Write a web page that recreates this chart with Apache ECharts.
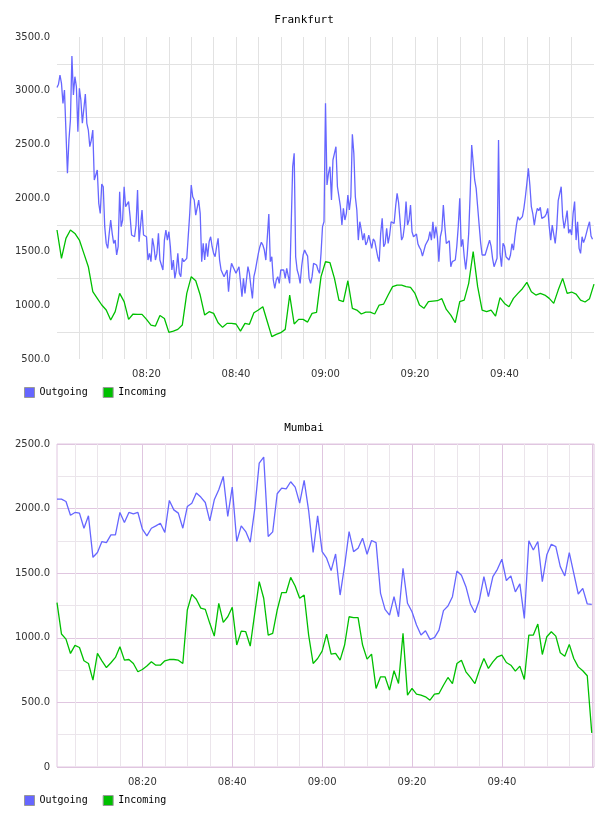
<!DOCTYPE html>
<html>
<head>
<meta charset="utf-8">
<script src="https://cdn.jsdelivr.net/npm/echarts@6/dist/echarts.min.js"></script>
<style>
html, body { margin: 0; padding: 0; background: #fff; }
#chart { width: 608px; height: 816px; }
</style>
</head>
<body>
<div id="chart"></div>
<script>
// minutes after 08:00
var fraOutStart = 0, fraOutStep = 1 / 3;
var fraInStart = 0, fraInStep = 1;
var mumStart = 1, mumStep = 1;

var fraOut = [3030, 3060, 3146, 3068, 2882, 3006, 2991, 2230, 2540, 2727, 3323, 2960, 3130, 3037,
	2618, 3022, 2913, 2696, 2680, 2969, 2696, 2633, 2478, 2540, 2633, 2168, 2152, 2261, 1950, 1857,
	2130, 2105, 1733, 1577, 1531, 1671, 1795, 1671, 1577, 1608, 1469, 1546, 2059, 1733, 1795, 2105,
	1919, 1934, 1966, 1826, 1655, 1639, 1639, 1750, 2074, 1593, 1608, 1888, 1655, 1639, 1639, 1422,
	1484, 1407, 1624, 1546, 1422, 1484, 1671, 1422, 1407, 1329, 1608, 1702, 1608, 1686, 1546, 1329,
	1422, 1251, 1329, 1484, 1298, 1267, 1438, 1407, 1397, 1438, 1453, 1857, 2121, 2012, 1981,
	1841, 1826, 1981, 1857, 1407, 1577, 1422, 1577, 1453, 1593, 1639, 1546, 1484, 1453, 1546, 1624,
	1422, 1329, 1344, 1267, 1251, 1329, 1127, 1298, 1391, 1376, 1329, 1298, 1298, 1360, 1360, 1080,
	1251, 1111, 1236, 1360, 1298, 1174, 1065, 1267, 1329, 1407, 1484, 1546, 1587, 1562, 1515, 1422,
	1428, 1851, 1407, 1453, 1236, 1158, 1236, 1267, 1205, 1329, 1344, 1329, 1251, 1344, 1329, 1205,
	1205, 2292, 2416, 1453, 1329, 1282, 1205, 1360, 1469, 1515, 1484, 1459, 1251, 1205, 1267, 1391,
	1407, 1376, 1329, 1298, 1484, 1733, 1779, 2882, 2121, 2230, 2292,
	1981, 2354, 2416, 2478, 2105, 2105, 1919, 1748, 1904, 1795, 1857, 2028, 1888, 2012, 2593, 2416,
	2012, 1888, 1608, 1779, 1702, 1608, 1671, 1562, 1593, 1655, 1639, 1531, 1618, 1599, 1593, 1453,
	1407, 1671, 1810, 1546, 1577, 1717, 1577, 1655, 1779, 1795, 1764, 1919, 2043, 1956, 1956, 1608,
	1639, 1748, 1966, 1748, 1795, 1934, 1686, 1639, 1639, 1664, 1571, 1540, 1515, 1459, 1509, 1562,
	1546, 1615, 1686, 1608, 1779, 1624, 1733, 1639, 1407, 1639, 1702, 1934, 1733, 1577, 1571, 1602,
	1360, 1407, 1422, 1422, 1546, 1733, 1997, 1546, 1615, 1453,
	1335, 1469, 1671, 2043, 2494, 2503, 2168, 2090, 1919, 1748, 1584, 1469, 1469, 1469, 1469, 1562,
	1608, 1552, 1438, 1360, 1351, 1438, 2540, 1484, 1360, 1577, 1552, 1453, 1438, 1422, 1469, 1574,
	1515, 1639, 1748, 1826, 1795, 1795, 1826, 1904, 2012, 2136, 2276, 2121, 1919, 1851, 1748, 1841,
	1904, 1882, 1913, 1810, 1795, 1826, 1851, 1904, 1733, 1608, 1748, 1757, 1577, 1717, 1975, 1981,
	2105, 1826, 1717, 1795, 1882, 1671, 1708, 1655, 1857, 1966, 1608, 1779, 1531, 1484, 1639, 1584,
	1624, 1677, 1733, 1779, 1646, 1615];

var fraIn = [1702, 1437, 1624, 1702, 1670, 1608, 1484, 1360, 1127, 1065, 1003, 956, 863, 941, 1111,
	1034, 869, 919, 916, 916, 869, 816, 807, 906, 878, 748, 760, 776, 816, 1111, 1267, 1229, 1096,
	909, 941, 925, 838, 795, 832, 832, 826, 760, 832, 823, 931, 956, 987, 847, 708, 729, 745, 776,
	1096, 826, 869, 869, 844, 925, 934, 1267, 1406, 1397, 1251, 1049, 1034, 1229, 972, 956, 919,
	937, 937, 919, 1003, 1012, 1096, 1174, 1189, 1189, 1174, 1167, 1111, 1003, 972, 1034, 1040,
	1043, 1062, 962, 909, 838, 1034, 1049, 1205, 1500, 1174, 956, 941, 956, 900, 1071, 1018, 987,
	1065, 1111, 1155, 1214, 1127, 1096, 1111, 1096, 1065, 1018, 1142, 1251, 1111, 1124, 1105, 1049,
	1031, 1062, 1198];

var mumOut = [2073, 2073, 2055, 1949, 1970, 1965, 1848, 1944, 1623, 1660, 1745, 1737, 1797, 1797,
	1970, 1892, 1970, 1959, 1970, 1841, 1789, 1848, 1866, 1887, 1815, 2063, 1990, 1965, 1848, 2016,
	2042, 2120, 2089, 2047, 1905, 2068, 2146, 2249, 1939, 2166, 1745, 1866, 1822, 1740, 1996, 2352,
	2399, 1784, 1820, 2115, 2159, 2153, 2208, 2166, 2042, 2218, 1985, 1660, 1944, 1667, 1616, 1520,
	1649, 1331, 1556, 1822, 1667, 1693, 1771, 1647, 1753, 1737, 1344, 1220, 1176, 1318, 1163, 1538,
	1267, 1202, 1099, 1021, 1055, 988, 1001, 1060, 1210, 1246, 1318, 1517, 1484, 1396, 1262, 1194,
	1293, 1474, 1318, 1474, 1530, 1608, 1443, 1479, 1355, 1417, 1150, 1750, 1680, 1745, 1435, 1642,
	1724, 1706, 1551, 1479, 1660, 1499, 1339, 1383, 1262, 1259];

var mumIn = [1272, 1029, 990, 879, 941, 925, 822, 801, 672, 879, 822, 770, 807, 848, 931, 827, 832,
	801, 737, 755, 781, 814, 788, 788, 822, 832, 832, 827, 801, 1215, 1336, 1298, 1230, 1220, 1112,
	1013, 1267, 1119, 1163, 1236, 944, 1052, 1047, 936, 1189, 1435, 1306, 1021, 1034, 1215, 1349,
	1349, 1468, 1401, 1306, 1331, 1021, 801, 840, 897, 1029, 874, 879, 827, 944, 1163, 1156, 1156,
	944, 835, 874, 608, 698, 698, 595, 745, 646, 1034, 556, 608, 564, 556, 543, 517, 564, 569, 633,
	693, 646, 801, 827, 737, 693, 646, 750, 840, 763, 814, 853, 866, 809, 788, 742, 781, 677, 1021,
	1021, 1106, 871, 1008, 1047, 1013, 884, 858, 949, 840, 775, 745, 706, 264];

var seriesNames = ['Outgoing', 'Incoming'];
var colors = ['#6666ff', '#00c000'];

function pairs(vals, start, step) {
	return vals.map(function (v, i) { return [start + i * step, v]; });
}

function timeLabel(v) {
	if (v <= 1 || v >= 120 || Math.round(v) % 20 != 0) return '';
	var h = 8 + Math.floor(v / 60), m = Math.round(v % 60);
	return (h < 10 ? '0' : '') + h + ':' + (m < 10 ? '0' : '') + m;
}

var tickFont = { fontFamily: 'DejaVu Sans', fontSize: 10, color: '#333' };
var purple = '#e0c6e0';
var lilac = '#ebe5eb';

var chart = echarts.init(document.getElementById('chart'));
var option = {
	animation: false,
	color: colors,
	title: [
		{ text: 'Frankfurt', left: 'center', top: 15, padding: 0,
			textStyle: { fontFamily: 'DejaVu Sans Mono', fontSize: 11, fontWeight: 'normal', color: '#000' } },
		{ text: 'Mumbai', left: 'center', top: 423, padding: 0,
			textStyle: { fontFamily: 'DejaVu Sans Mono', fontSize: 11, fontWeight: 'normal', color: '#000' } }
	],
	legend: [
		{ data: seriesNames, left: 24, top: 387, padding: 0, itemGap: 15, icon: 'rect',
			itemWidth: 10, itemHeight: 10, itemStyle: { borderColor: '#999', borderWidth: 1 },
			textStyle: { fontFamily: 'DejaVu Sans Mono', fontSize: 10, color: '#000' } },
		{ data: seriesNames, left: 24, top: 795, padding: 0, itemGap: 15, icon: 'rect',
			itemWidth: 10, itemHeight: 10, itemStyle: { borderColor: '#999', borderWidth: 1 },
			textStyle: { fontFamily: 'DejaVu Sans Mono', fontSize: 10, color: '#000' } }
	],
	grid: [
		{ left: 57, top: 37, width: 537, height: 322 },
		{ left: 57, top: 444, width: 537, height: 323, show: true, borderColor: purple, borderWidth: 1 }
	],
	xAxis: [
		{ type: 'value', gridIndex: 0, min: 0, max: 120, interval: 5,
			axisLine: { show: false }, axisTick: { show: false },
			axisLabel: Object.assign({ formatter: timeLabel, margin: 10 }, tickFont),
			splitLine: { show: true, showMinLine: false, showMaxLine: false, lineStyle: { color: '#e2e2e2' } } },
		{ type: 'value', gridIndex: 1, position: 'bottom', min: 1, max: 120.5, minInterval: 5, maxInterval: 5,
			axisLine: { show: false }, axisTick: { show: false }, axisLabel: { show: false },
			splitLine: { show: true, showMinLine: false, showMaxLine: false, lineStyle: { color: lilac } } },
		{ type: 'value', gridIndex: 1, position: 'bottom', min: 1, max: 120.5, minInterval: 20, maxInterval: 20,
			axisLine: { show: false }, axisTick: { show: false },
			axisLabel: Object.assign({ formatter: timeLabel, margin: 10 }, tickFont),
			splitLine: { show: true, showMinLine: false, showMaxLine: false, lineStyle: { color: purple } } }
	],
	yAxis: [
		{ type: 'value', gridIndex: 0, min: 500, max: 3500, interval: 250,
			axisLine: { show: false }, axisTick: { show: false },
			axisLabel: Object.assign({ margin: 7, formatter: function (v) { return v % 500 == 0 ? v.toFixed(1) : ''; } }, tickFont),
			splitLine: { show: true, lineStyle: { color: ['rgba(0,0,0,0)', '#e2e2e2'] } } },
		{ type: 'value', gridIndex: 1, position: 'left', min: 0, max: 2500, interval: 250,
			axisLine: { show: false }, axisTick: { show: false }, axisLabel: { show: false },
			splitLine: { show: true, lineStyle: { color: lilac } } },
		{ type: 'value', gridIndex: 1, position: 'left', min: 0, max: 2500, interval: 500,
			axisLine: { show: false }, axisTick: { show: false },
			axisLabel: Object.assign({ margin: 7, formatter: function (v) { return v == 0 ? '0' : v.toFixed(1); } }, tickFont),
			splitLine: { show: true, lineStyle: { color: purple } } }
	],
	series: [
		{ name: 'Outgoing', type: 'line', xAxisIndex: 0, yAxisIndex: 0, showSymbol: false,
			lineStyle: { width: 1.3, color: colors[0] }, data: pairs(fraOut, fraOutStart, fraOutStep) },
		{ name: 'Incoming', type: 'line', xAxisIndex: 0, yAxisIndex: 0, showSymbol: false,
			lineStyle: { width: 1.3, color: colors[1] }, data: pairs(fraIn, fraInStart, fraInStep) },
		{ name: 'Outgoing', type: 'line', xAxisIndex: 1, yAxisIndex: 1, showSymbol: false,
			lineStyle: { width: 1.3, color: colors[0] }, data: pairs(mumOut, mumStart, mumStep) },
		{ name: 'Incoming', type: 'line', xAxisIndex: 1, yAxisIndex: 1, showSymbol: false,
			lineStyle: { width: 1.3, color: colors[1] }, data: pairs(mumIn, mumStart, mumStep) }
	]
};
chart.setOption(option);
</script>
</body>
</html>
